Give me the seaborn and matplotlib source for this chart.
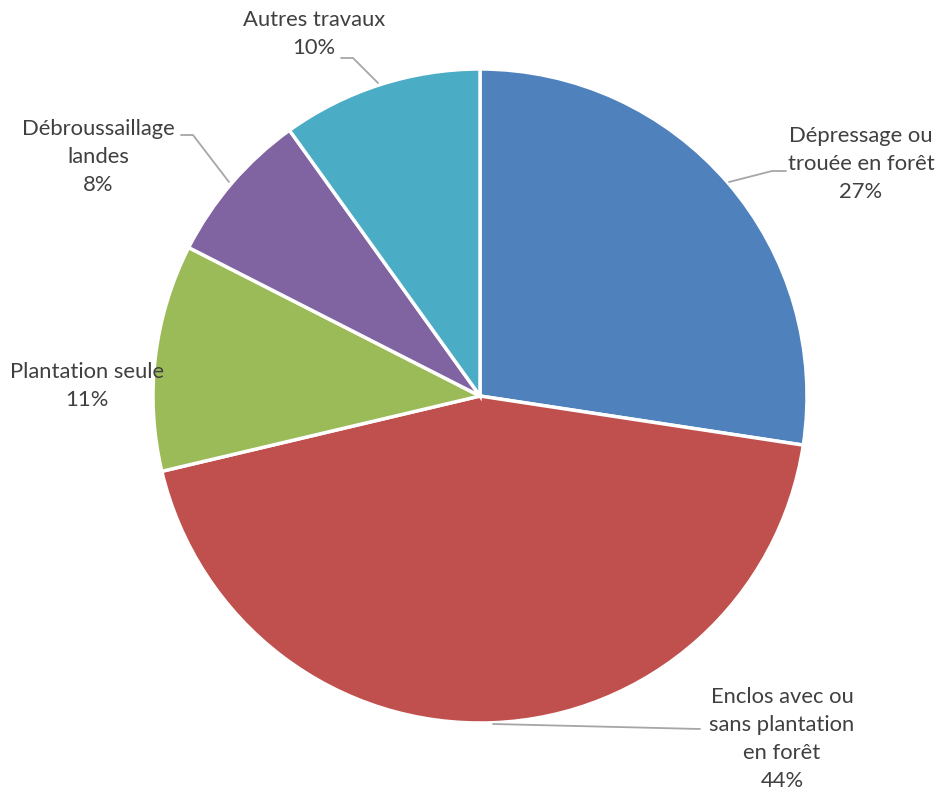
import matplotlib
matplotlib.use("Agg")
import matplotlib.pyplot as plt
import seaborn as sns

categories = ["Dépressage ou\ntrouée en forêt", "Enclos avec ou\nsans plantation\nen forêt",
              "Plantation seule", "Débroussaillage\nlandes", "Autres travaux"]
values = [27.4, 43.9, 11.2, 7.6, 9.9]
colors = ["#4F81BD", "#C0504D", "#9BBB59", "#8064A2", "#4BACC6"]

sns.set_theme(style="white")
plt.rcParams['font.family'] = ['Lato', 'DejaVu Sans']

W, H = 941, 792
fig = plt.figure(figsize=(W / 100, H / 100), dpi=100)
ax = fig.add_axes([0, 0, 1, 1])

cx, cy, r = 480, H - 396, 327
ax.pie(values, colors=colors, startangle=90, counterclock=False,
       center=(cx, cy), radius=r, frame=True,
       wedgeprops=dict(edgecolor="white", linewidth=2.5))
ax.set_xlim(0, W)
ax.set_ylim(0, H)
ax.set_aspect("equal")
ax.axis("off")

total = sum(values)
pcts = ["%.0f%%" % (v / total * 100) for v in values]

# label centres (pixel, y from top)
label_pos = [(861, 164), (782, 739), (87, 386), (98, 157), (314, 34)]
# leader lines (pixel, y from top)
leaders = [
    [(786, 171), (772, 171), (729, 182)],
    [(700, 729), (493, 724)],
    None,
    [(181, 135), (193, 135), (229, 182)],
    [(341, 58), (353, 58), (378, 83)],
]
for cat, p, (lx, ly), ld in zip(categories, pcts, label_pos, leaders):
    if ld:
        ax.plot([q[0] for q in ld], [H - q[1] for q in ld], color="#A6A6A6", lw=1.3, zorder=1)
    ax.text(lx, H - ly, cat + "\n" + p, ha="center", va="center", fontsize=15.8,
            color="#404040", linespacing=1.5)

fig.savefig("out.png", dpi=100)
